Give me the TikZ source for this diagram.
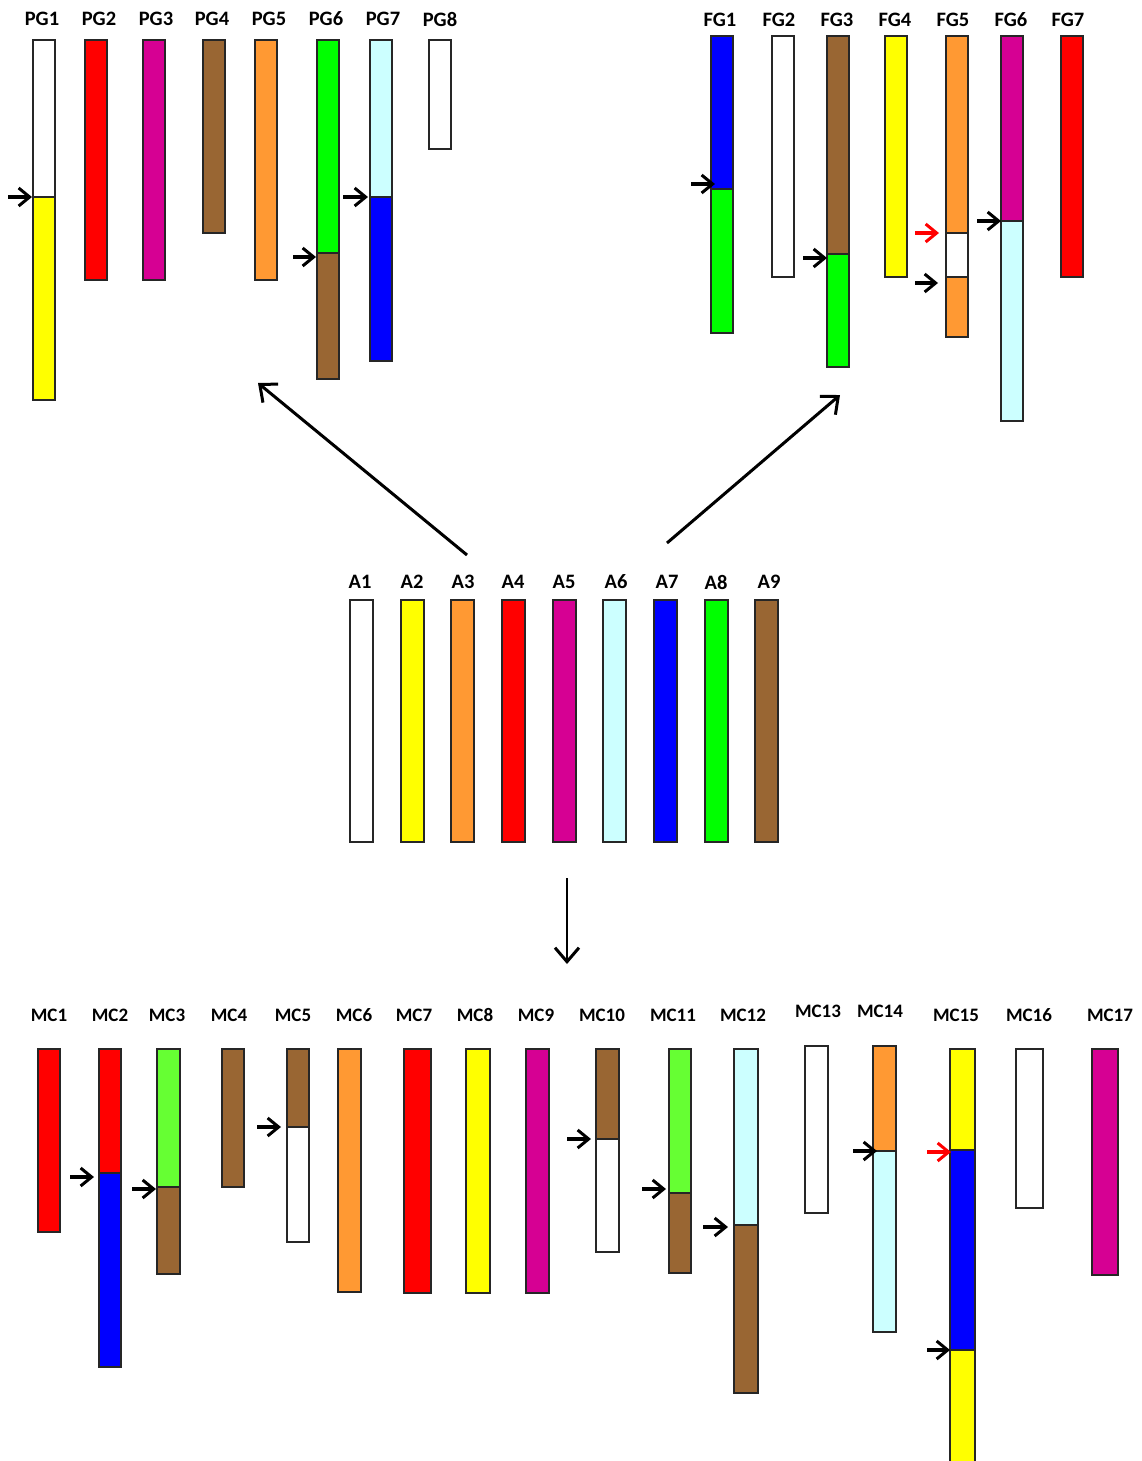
\documentclass[tikz,border=0pt]{standalone}
\usepackage{fontspec}
\setmainfont{Carlito}
\usetikzlibrary{arrows.meta,positioning}
\definecolor{seg-yellow}{HTML}{FFFF00}
\definecolor{seg-orange}{HTML}{FF9933}
\definecolor{seg-red}{HTML}{FF0000}
\definecolor{seg-magenta}{HTML}{D60093}
\definecolor{seg-cyan}{HTML}{CCFFFF}
\definecolor{seg-blue}{HTML}{0000FF}
\definecolor{seg-green}{HTML}{00FF00}
\definecolor{seg-lime}{HTML}{66FF33}
\definecolor{seg-brown}{HTML}{996633}
\tikzset{
    seg-box/.style = {draw=black!85, line width=1.5pt, rectangle, inner sep=0pt, outer sep=0pt, minimum width=22pt, anchor=north west},
    seg-label/.style = {font=\fontsize{20.5}{24}\selectfont\bfseries, inner sep=0pt},
    mc-label/.style = {font=\fontsize{19}{23}\selectfont\bfseries, inner sep=0pt},
    cut-arrow/.style = {-{Straight Barb[length=11pt, width=18pt, line width=3pt]}, line width=3.2pt},
    big-arrow/.style = {-{Straight Barb[length=14pt, width=24pt, line width=3pt]}, line width=3pt},
}

\begin{document}
\begin{tikzpicture}[x=1pt, y=-1pt]
\useasboundingbox (0,0) rectangle (1141,1461);

% PG row
\node[seg-box, fill=white, minimum height=157pt] (pg1a) at (33,40) {};
\node[seg-box, fill=seg-yellow, minimum height=203pt] (pg1b) at (33,197) {};
\node[seg-box, fill=seg-red, minimum height=240pt] (pg2) at (85,40) {};
\node[seg-box, fill=seg-magenta, minimum height=240pt] (pg3) at (143,40) {};
\node[seg-box, fill=seg-brown, minimum height=193pt] (pg4) at (203,40) {};
\node[seg-box, fill=seg-orange, minimum height=240pt] (pg5) at (255,40) {};
\node[seg-box, fill=seg-green, minimum height=213pt] (pg6a) at (317,40) {};
\node[seg-box, fill=seg-brown, minimum height=126pt] (pg6b) at (317,253) {};
\node[seg-box, fill=seg-cyan, minimum height=157pt] (pg7a) at (370,40) {};
\node[seg-box, fill=seg-blue, minimum height=164pt] (pg7b) at (370,197) {};
\node[seg-box, fill=white, minimum height=109pt] (pg8) at (429,40) {};

\node[seg-label] (pg1-label) at (42,19) {PG1};
\node[seg-label] (pg2-label) at (99,19) {PG2};
\node[seg-label] (pg3-label) at (156,19) {PG3};
\node[seg-label] (pg4-label) at (212,19) {PG4};
\node[seg-label] (pg5-label) at (269,19) {PG5};
\node[seg-label] (pg6-label) at (326,19) {PG6};
\node[seg-label] (pg7-label) at (383,19) {PG7};
\node[seg-label] (pg8-label) at (440,19) {PG8};

\draw[cut-arrow] ([xshift=-25pt]pg1b.north west) -- ([xshift=-1pt]pg1b.north west);
\draw[cut-arrow] ([xshift=-24pt, yshift=-4pt]pg6b.north west) -- ([xshift=-1pt, yshift=-4pt]pg6b.north west);
\draw[cut-arrow] ([xshift=-27pt]pg7b.north west) -- ([xshift=-2pt]pg7b.north west);

% FG row
\node[seg-box, fill=seg-blue, minimum height=153pt] (fg1a) at (711,36) {};
\node[seg-box, fill=seg-green, minimum height=144pt] (fg1b) at (711,189) {};
\node[seg-box, fill=white, minimum height=241pt] (fg2) at (772,36) {};
\node[seg-box, fill=seg-brown, minimum height=218pt] (fg3a) at (827,36) {};
\node[seg-box, fill=seg-green, minimum height=113pt] (fg3b) at (827,254) {};
\node[seg-box, fill=seg-yellow, minimum height=241pt] (fg4) at (885,36) {};
\node[seg-box, fill=seg-orange, minimum height=197pt] (fg5a) at (946,36) {};
\node[seg-box, fill=white, minimum height=44pt] (fg5b) at (946,233) {};
\node[seg-box, fill=seg-orange, minimum height=60pt] (fg5c) at (946,277) {};
\node[seg-box, fill=seg-magenta, minimum height=185pt] (fg6a) at (1001,36) {};
\node[seg-box, fill=seg-cyan, minimum height=200pt] (fg6b) at (1001,221) {};
\node[seg-box, fill=seg-red, minimum height=241pt] (fg7) at (1061,36) {};

\node[seg-label] (fg1-label) at (720,20) {FG1};
\node[seg-label] (fg2-label) at (779,20) {FG2};
\node[seg-label] (fg3-label) at (837,20) {FG3};
\node[seg-label] (fg4-label) at (895,20) {FG4};
\node[seg-label] (fg5-label) at (953,20) {FG5};
\node[seg-label] (fg6-label) at (1011,20) {FG6};
\node[seg-label] (fg7-label) at (1068,20) {FG7};

\draw[cut-arrow] ([xshift=-20pt, yshift=5pt]fg1b.north west) -- ([xshift=4pt, yshift=5pt]fg1b.north west);
\draw[cut-arrow] ([xshift=-24pt, yshift=-4pt]fg3b.north west) -- ([yshift=-4pt]fg3b.north west);
\draw[cut-arrow, red] ([xshift=-31pt]fg5b.north west) -- ([xshift=-7pt]fg5b.north west);
\draw[cut-arrow] ([xshift=-31pt, yshift=-6pt]fg5c.north west) -- ([xshift=-8pt, yshift=-6pt]fg5c.north west);
\draw[cut-arrow] ([xshift=-24pt]fg6b.north west) -- (fg6b.north west);

% A row
\node[seg-box, fill=white, minimum width=23pt, minimum height=242pt] (a1) at (350,600) {};
\node[seg-box, fill=seg-yellow, minimum width=23pt, minimum height=242pt] (a2) at (401,600) {};
\node[seg-box, fill=seg-orange, minimum width=23pt, minimum height=242pt] (a3) at (451,600) {};
\node[seg-box, fill=seg-red, minimum width=23pt, minimum height=242pt] (a4) at (502,600) {};
\node[seg-box, fill=seg-magenta, minimum width=23pt, minimum height=242pt] (a5) at (553,600) {};
\node[seg-box, fill=seg-cyan, minimum width=23pt, minimum height=242pt] (a6) at (603,600) {};
\node[seg-box, fill=seg-blue, minimum width=23pt, minimum height=242pt] (a7) at (654,600) {};
\node[seg-box, fill=seg-green, minimum width=23pt, minimum height=242pt] (a8) at (705,600) {};
\node[seg-box, fill=seg-brown, minimum width=23pt, minimum height=242pt] (a9) at (755,600) {};

\node[seg-label] (a1-label) at (360,582) {A1};
\node[seg-label] (a2-label) at (412,582) {A2};
\node[seg-label] (a3-label) at (463,582) {A3};
\node[seg-label] (a4-label) at (513,582) {A4};
\node[seg-label] (a5-label) at (564,582) {A5};
\node[seg-label] (a6-label) at (616,582) {A6};
\node[seg-label] (a7-label) at (667,582) {A7};
\node[seg-label] (a8-label) at (716,582) {A8};
\node[seg-label] (a9-label) at (769,582) {A9};

% arrows between the rows
\coordinate (pg-start) at (467,555);
\coordinate (pg-end) at (258,383);
\coordinate (fg-start) at (667,543);
\coordinate (fg-end) at (840,395);
\coordinate (mc-start) at (567,878);
\coordinate (mc-end) at (567,964);
\draw[big-arrow] (pg-start) -- (pg-end);
\draw[big-arrow] (fg-start) -- (fg-end);
\draw[big-arrow, line width=2.2pt] (mc-start) -- (mc-end);

% MC row
\node[seg-box, fill=seg-red, minimum height=183pt] (mc1) at (38,1049) {};
\node[seg-box, fill=seg-red, minimum height=124pt] (mc2a) at (99,1049) {};
\node[seg-box, fill=seg-blue, minimum height=194pt] (mc2b) at (99,1173) {};
\node[seg-box, fill=seg-lime, minimum width=23pt, minimum height=138pt] (mc3a) at (157,1049) {};
\node[seg-box, fill=seg-brown, minimum width=23pt, minimum height=87pt] (mc3b) at (157,1187) {};
\node[seg-box, fill=seg-brown, minimum height=138pt] (mc4) at (222,1049) {};
\node[seg-box, fill=seg-brown, minimum height=78pt] (mc5a) at (287,1049) {};
\node[seg-box, fill=white, minimum height=115pt] (mc5b) at (287,1127) {};
\node[seg-box, fill=seg-orange, minimum width=23pt, minimum height=243pt] (mc6) at (338,1049) {};
\node[seg-box, fill=seg-red, minimum width=27pt, minimum height=244pt] (mc7) at (404,1049) {};
\node[seg-box, fill=seg-yellow, minimum width=24pt, minimum height=244pt] (mc8) at (466,1049) {};
\node[seg-box, fill=seg-magenta, minimum width=23pt, minimum height=244pt] (mc9) at (526,1049) {};
\node[seg-box, fill=seg-brown, minimum width=23pt, minimum height=90pt] (mc10a) at (596,1049) {};
\node[seg-box, fill=white, minimum width=23pt, minimum height=113pt] (mc10b) at (596,1139) {};
\node[seg-box, fill=seg-lime, minimum height=144pt] (mc11a) at (669,1049) {};
\node[seg-box, fill=seg-brown, minimum height=80pt] (mc11b) at (669,1193) {};
\node[seg-box, fill=seg-cyan, minimum width=24pt, minimum height=176pt] (mc12a) at (734,1049) {};
\node[seg-box, fill=seg-brown, minimum width=24pt, minimum height=168pt] (mc12b) at (734,1225) {};
\node[seg-box, fill=white, minimum width=23pt, minimum height=167pt] (mc13) at (805,1046) {};
\node[seg-box, fill=seg-orange, minimum width=23pt, minimum height=105pt] (mc14a) at (873,1046) {};
\node[seg-box, fill=seg-cyan, minimum width=23pt, minimum height=181pt] (mc14b) at (873,1151) {};
\node[seg-box, fill=seg-yellow, minimum width=25pt, minimum height=101pt] (mc15a) at (950,1049) {};
\node[seg-box, fill=seg-blue, minimum width=25pt, minimum height=200pt] (mc15b) at (950,1150) {};
\node[seg-box, fill=seg-yellow, minimum width=25pt, minimum height=125pt] (mc15c) at (950,1350) {};
\node[seg-box, fill=white, minimum width=27pt, minimum height=159pt] (mc16) at (1016,1049) {};
\node[seg-box, fill=seg-magenta, minimum width=26pt, minimum height=226pt] (mc17) at (1092,1049) {};

\node[mc-label] (mc1-label) at (49,1015) {MC1};
\node[mc-label] (mc2-label) at (110,1015) {MC2};
\node[mc-label] (mc3-label) at (167,1015) {MC3};
\node[mc-label] (mc4-label) at (229,1015) {MC4};
\node[mc-label] (mc5-label) at (293,1015) {MC5};
\node[mc-label] (mc6-label) at (354,1015) {MC6};
\node[mc-label] (mc7-label) at (414,1015) {MC7};
\node[mc-label] (mc8-label) at (475,1015) {MC8};
\node[mc-label] (mc9-label) at (536,1015) {MC9};
\node[mc-label] (mc10-label) at (602,1015) {MC10};
\node[mc-label] (mc11-label) at (673,1015) {MC11};
\node[mc-label] (mc12-label) at (743,1015) {MC12};
\node[mc-label] (mc13-label) at (818,1011) {MC13};
\node[mc-label] (mc14-label) at (880,1011) {MC14};
\node[mc-label] (mc15-label) at (956,1015) {MC15};
\node[mc-label] (mc16-label) at (1029,1015) {MC16};
\node[mc-label] (mc17-label) at (1110,1015) {MC17};

\draw[cut-arrow] ([xshift=-29pt, yshift=-4pt]mc2b.north west) -- ([xshift=-5pt, yshift=-4pt]mc2b.north west);
\draw[cut-arrow] ([xshift=-25pt, yshift=-2pt]mc3b.north west) -- ([xshift=-1pt, yshift=-2pt]mc3b.north west);
\draw[cut-arrow] ([xshift=-30pt]mc5b.north west) -- ([xshift=-6pt]mc5b.north west);
\draw[cut-arrow] ([xshift=-29pt]mc10b.north west) -- ([xshift=-5pt]mc10b.north west);
\draw[cut-arrow] ([xshift=-27pt, yshift=4pt]mc11b.north west) -- ([xshift=-3pt, yshift=4pt]mc11b.north west);
\draw[cut-arrow] ([xshift=-31pt, yshift=-2pt]mc12b.north west) -- ([xshift=-6pt, yshift=-2pt]mc12b.north west);
\draw[cut-arrow] ([xshift=-20pt]mc14b.north west) -- ([xshift=4pt]mc14b.north west);
\draw[cut-arrow, red] ([xshift=-23pt, yshift=-2pt]mc15b.north west) -- ([xshift=1pt, yshift=-2pt]mc15b.north west);
\draw[cut-arrow] ([xshift=-23pt]mc15c.north west) -- (mc15c.north west);
\end{tikzpicture}
\end{document}
